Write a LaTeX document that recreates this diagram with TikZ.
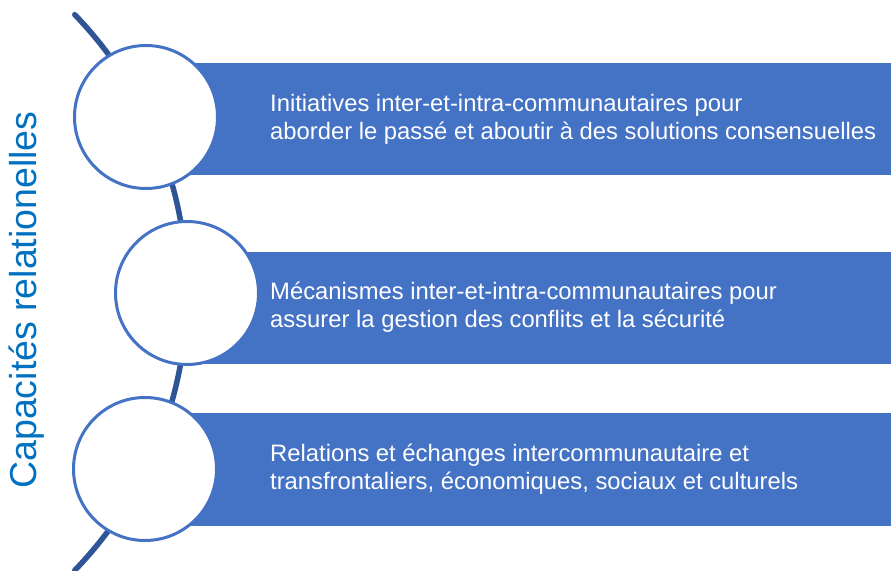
\documentclass[tikz,border=0pt]{standalone}
\usepackage{fontspec}
\setmainfont{Liberation Sans}
\usetikzlibrary{calc, positioning}

\definecolor{boxblue}{HTML}{4472C4}
\definecolor{arcblue}{HTML}{2F5597}
\definecolor{titleblue}{HTML}{0070C0}

\tikzset{
  bullet/.style={circle, draw=boxblue, line width=3pt, fill=white, minimum size=143pt, inner sep=0pt},
  band/.style={fill=boxblue},
  bandtext/.style={anchor=west, align=left, text=white, font=\fontsize{23.8}{28}\selectfont, inner sep=0pt}
}

\begin{document}
\begin{tikzpicture}[x=1pt, y=1pt]
        \useasboundingbox (0,0) rectangle (891,570);
        % bands first, behind the circles
        \foreach \cx/\lo/\hi [count = \i] in {146/395/507, 187/206/318, 145/44/157}{
          \fill[band] (\cx,\lo) rectangle (891,\hi);
        }
        \node[bandtext] (t1) at (270,451) {Initiatives inter-et-intra-communautaires pour\\aborder le passé et aboutir à des solutions consensuelles};
        \node[bandtext] (t2) at (270,263) {Mécanismes inter-et-intra-communautaires pour\\assurer la gestion des conflits et la sécurité};
        \node[bandtext] (t3) at (270,101) {Relations et échanges intercommunautaire et\\transfrontaliers, économiques, sociaux et culturels};
        % the spine
        \draw[arcblue, line width=5.5pt, line cap=round] ($(-213,277.5)+(44:400)$) arc[start angle=44, end angle=-44, radius=400];
        \node[bullet] (c1) at (146,453) {};
        \node[bullet] (c2) at (187,277) {};
        \node[bullet] (c3) at (145,101) {};
        \node[rotate=90, text=titleblue, font=\fontsize{37.5}{40}\selectfont] (title) at (27,270) {Capacités relationelles};
      \end{tikzpicture}
\end{document}
